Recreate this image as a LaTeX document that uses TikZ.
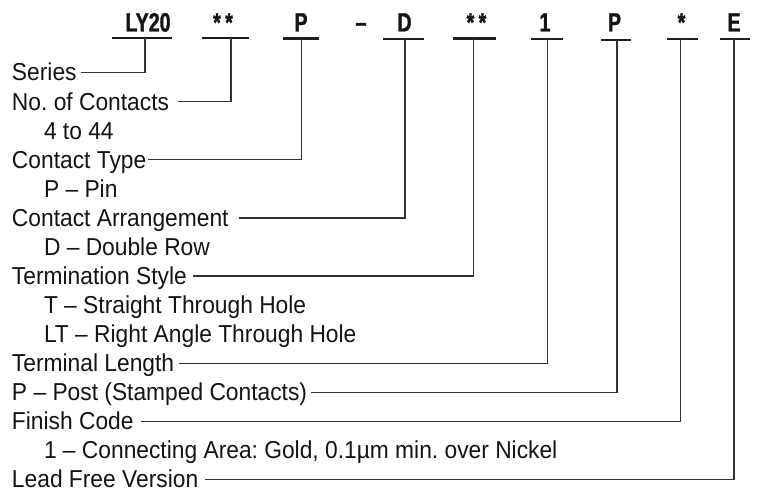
\documentclass[tikz,border=0pt]{standalone}
\usepackage{fontspec}
\setmainfont[FakeStretch=0.93]{Liberation Sans}
\newfontfamily\hdrfont[FakeStretch=0.74,FakeBold=1.2]{Liberation Sans Bold}
\usetikzlibrary{calc}
\frenchspacing
\tikzset{
  lbl/.style={anchor=base west, inner sep=0pt, outer sep=0pt, font=\fontsize{24.5}{29}\selectfont, text=black!92},
  code/.style={anchor=base, inner sep=0pt, outer sep=0pt, font=\hdrfont\fontsize{26.5}{30}\selectfont, text=black!92},
  uline/.style={line width=2.6pt, draw=black!88},
  conn/.style={line width=1.3pt, draw=black!80},
}
\begin{document}
\begin{tikzpicture}[x=1pt,y=-1pt]
\useasboundingbox (0,0) rectangle (758,495);
\fill[white] (0,0) rectangle (758,495);
% code letters
\node[code] (c1) at (148,31.5) {LY20};
\node[code] (c2) at (223,31.5) {*\,*};
\node[code] (c3) at (301,31.5) {P};
\node[code] (c4) at (361,31.5) {–};
\node[code] (c5) at (404.5,31.5) {D};
\node[code] (c6) at (476.5,31.5) {*\,*};
\node[code] (c7) at (545,31.5) {1};
\node[code] (c8) at (614.5,31.5) {P};
\node[code] (c9) at (681.5,31.5) {*};
\node[code] (c10) at (734,31.5) {E};
% underlines
\draw[uline] (112,38) -- (172,38);
\draw[uline] (202,38) -- (249,38);
\draw[uline] (283,38.5) -- (319,38.5);
\draw[uline] (383,39) -- (424,39);
\draw[uline] (453,38.5) -- (496,38.5);
\draw[uline] (531,39) -- (563,39);
\draw[uline] (601,40) -- (631,40);
\draw[uline] (667,39) -- (698,39);
\draw[uline] (720,39) -- (750,39);
% attachment points on the underlines
\coordinate (u1) at (145,38);
\coordinate (u2) at (231,38);
\coordinate (u3) at (301.5,38.5);
\coordinate (u5) at (405,39);
\coordinate (u6) at (473.5,38.5);
\coordinate (u7) at (547.5,39);
\coordinate (u8) at (617,40);
\coordinate (u9) at (680.5,39);
\coordinate (u10) at (734,39);
% labels
\node[lbl] (l0) at (12,81) {Series};
\node[lbl] (l1) at (12,110.07) {No. of Contacts};
\node[lbl] (l2) at (44,139.14) {4 to 44};
\node[lbl] (l3) at (12,168.21) {Contact Type};
\node[lbl] (l4) at (44,197.28) {P – Pin};
\node[lbl] (l5) at (12,226.35) {Contact Arrangement};
\node[lbl] (l6) at (44,255.42) {D – Double Row};
\node[lbl] (l7) at (12,284.49) {Termination Style};
\node[lbl] (l8) at (44,313.56) {T – Straight Through Hole};
\node[lbl] (l9) at (44,342.63) {LT – Right Angle Through Hole};
\node[lbl] (l10) at (12,371.7) {Terminal Length};
\node[lbl] (l11) at (12,400.77) {P – Post (Stamped Contacts)};
\node[lbl] (l12) at (12,429.84) {Finish Code};
\node[lbl] (l13) at (44,458.91) {1 – Connecting Area: Gold, 0.1µm min. over Nickel};
\node[lbl] (l14) at (12,487.98) {Lead Free Version};
% connectors
\draw[conn] ($(l0.base east)+(4,-8.5)$) -| (u1);
\draw[conn] ($(l1.base east)+(9,-8.5)$) -| (u2);
\draw[conn] ($(l3.base east)+(2,-8.5)$) -| (u3);
\draw[conn] ($(l5.base east)+(10,-8.5)$) -| (u5);
\draw[conn] ($(l7.base east)+(6,-8.5)$) -| (u6);
\draw[conn] ($(l10.base east)+(5,-8.5)$) -| (u7);
\draw[conn] ($(l11.base east)+(4,-8.5)$) -| (u8);
\draw[conn] ($(l12.base east)+(7,-8.5)$) -| (u9);
\draw[conn] ($(l14.base east)+(7,-8.5)$) -| (u10);
\end{tikzpicture}
\end{document}
